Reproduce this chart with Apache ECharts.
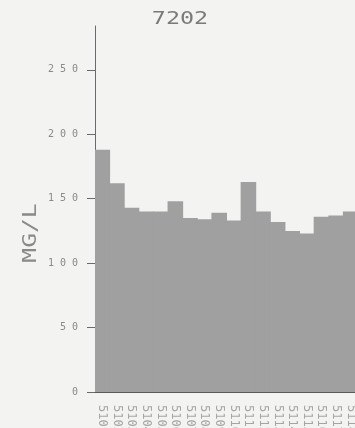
<!DOCTYPE html>
<html>
<head>
<meta charset="utf-8">
<script src="https://cdn.jsdelivr.net/npm/echarts@6/dist/echarts.min.js"></script>
<style>
html,body{margin:0;padding:0;background:#f3f3f1;}
#chart{width:355px;height:428px;}
</style>
</head>
<body>
<div id="chart"></div>
<script>
var title = "7202";
var yName = "MG/L";
var categories = ["5101","5102","5103","5104","5105","5106","5107","5108","5109","5110","5111","5112","5113","5114","5115","5116","5117","5118"];
var values = [188, 162, 143, 140, 140, 148, 135, 134, 139, 133, 163, 140, 132, 125, 123, 136, 137, 140];
var yTicks = [0, 50, 100, 150, 200, 250];

var chart = echarts.init(document.getElementById('chart'), null, {renderer: 'canvas'});
chart.setOption({
  backgroundColor: '#f3f3f1',
  animation: false,
  graphic: [{
    type: 'text', x: 180, y: 19, scaleX: 1.3,
    style: {text: title, fontFamily: 'DejaVu Sans Mono', fontSize: 18, fill: '#7a7a7a', align: 'center', verticalAlign: 'middle'}
  }, {
    type: 'text', x: 31, y: 233, rotation: Math.PI / 2, scaleX: 1.3,
    style: {text: yName, fontFamily: 'DejaVu Sans Mono', fontSize: 19, fill: '#8a8a8a', align: 'center', verticalAlign: 'middle'}
  }],
  grid: {left: 95, right: -3, top: 26, bottom: 36, containLabel: false, outerBoundsMode: 'none'},
  xAxis: {
    type: 'category', data: categories,
    axisLine: {lineStyle: {color: '#5a5a5a', width: 1}},
    axisTick: {show: false},
    splitLine: {show: false},
    splitArea: {show: false},
    axisLabel: {rotate: -90, margin: 13, interval: 0, overflow: 'none', fontFamily: 'DejaVu Sans Mono', fontSize: 12, color: '#a5a5a5'}
  },
  yAxis: {
    type: 'value', min: 0, max: 284,
    axisLine: {show: true, lineStyle: {color: '#6a6a6a', width: 1}},
    axisTick: {show: true, length: 8, customValues: yTicks, lineStyle: {color: '#6a6a6a'}},
    axisLabel: {
      customValues: yTicks, margin: 17,
      fontFamily: 'DejaVu Sans Mono', fontSize: 10, color: '#8a8a8a',
      formatter: function (v) { return String(v).split('').join(' '); }
    },
    splitLine: {show: false},
    splitArea: {show: false}
  },
  series: [{
    type: 'bar', data: values, barWidth: 15.6,
    itemStyle: {color: '#a0a0a0', borderWidth: 0}
  }]
});
</script>
</body>
</html>
